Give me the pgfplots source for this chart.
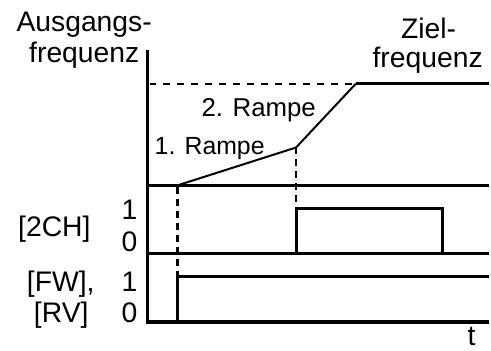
\documentclass[border=0pt]{standalone}
\usepackage{fontspec}
\setmainfont{Liberation Sans}
\usepackage{pgfplots}
\pgfplotsset{compat=1.18}
\begin{document}
\begin{tikzpicture}
\begin{axis}[width=491bp,height=352bp,scale only axis,
  xmin=0,xmax=491,ymin=0,ymax=352,hide axis,clip=false,
  every axis plot/.append style={line join=miter}]
% invisible frame to keep the picture size
\addplot[draw=none] coordinates {(0,0) (491,352)};
% vertical axis
\addplot[line width=3.2bp] coordinates {(148,302) (148,27.4)};
% baselines
\addplot[line width=3.2bp] coordinates {(148,166) (491,166)};
\addplot[line width=3.2bp] coordinates {(148,98) (491,98)};
\addplot[line width=3.2bp] coordinates {(148,29) (491,29)};
% target frequency dashed
\addplot[line width=2.2bp, dash pattern=on 7bp off 7bp] coordinates {(150,268) (357,268)};
% frequency curve
\addplot[line width=2bp] coordinates {(178,166) (297,204) (357,268)};
\addplot[line width=3.2bp] coordinates {(357,268) (491,268)};
% dashed verticals
\addplot[line width=2.2bp, dash pattern=on 7bp off 5bp] coordinates {(178,164) (178,76)};
\addplot[line width=2.2bp, dash pattern=on 7bp off 5bp] coordinates {(297,204) (297,144)};
% 2CH pulse
\addplot[line width=3bp] coordinates {(297,98) (297,143) (444,143) (444,98)};
% FW/RV signal
\addplot[line width=3bp] coordinates {(178,29) (178,75) (491,75)};
% labels
\node[anchor=base east,font=\fontsize{28.5}{32}\selectfont,inner sep=0pt] at (axis cs:152.5,320) {Ausgangs-};
\node[anchor=base east,font=\fontsize{28.5}{32}\selectfont,inner sep=0pt] at (axis cs:140,289) {frequenz};
\node[anchor=base,font=\fontsize{28.5}{32}\selectfont,inner sep=0pt] at (axis cs:430,313) {Ziel-};
\node[anchor=base,font=\fontsize{28.5}{32}\selectfont,inner sep=0pt] at (axis cs:429,284) {frequenz};
\node[anchor=base west,font=\fontsize{26}{30}\selectfont,inner sep=0pt] at (axis cs:202,235) {2. Rampe};
\node[anchor=base west,font=\fontsize{25}{30}\selectfont,inner sep=0pt] at (axis cs:155,197) {1. Rampe};
\node[anchor=base east,font=\fontsize{28.5}{32}\selectfont,inner sep=0pt] at (axis cs:91,115) {[2CH]};
\node[anchor=base east,font=\fontsize{28.5}{32}\selectfont,inner sep=0pt] at (axis cs:138,132) {1};
\node[anchor=base east,font=\fontsize{28.5}{32}\selectfont,inner sep=0pt] at (axis cs:138,100) {0};
\node[anchor=base east,font=\fontsize{28.5}{32}\selectfont,inner sep=0pt] at (axis cs:95,60) {[FW],};
\node[anchor=base east,font=\fontsize{28.5}{32}\selectfont,inner sep=0pt] at (axis cs:89,28) {[RV]};
\node[anchor=base east,font=\fontsize{28.5}{32}\selectfont,inner sep=0pt] at (axis cs:138,60) {1};
\node[anchor=base east,font=\fontsize{28.5}{32}\selectfont,inner sep=0pt] at (axis cs:138,28) {0};
\node[anchor=base,font=\fontsize{28.5}{32}\selectfont,inner sep=0pt] at (axis cs:473,5) {t};
\end{axis}
\end{tikzpicture}
\end{document}
